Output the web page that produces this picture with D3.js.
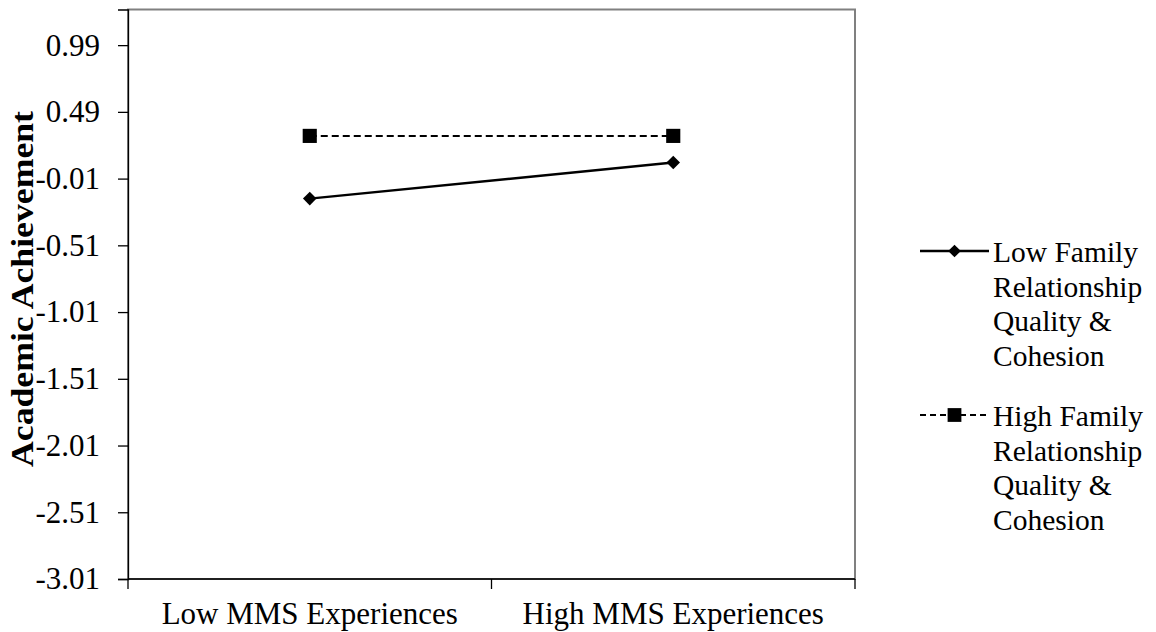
<!DOCTYPE html>
<html><head><meta charset="utf-8">
<script src="https://cdn.jsdelivr.net/npm/d3@7"></script>
<style>body{margin:0;background:#fff}svg{display:block}text{font-family:"Liberation Serif","Times New Roman",serif !important;fill:#000}</style>
</head><body>
<svg id="c" width="1156" height="632"></svg>
<script>
const categories = ["Low MMS Experiences", "High MMS Experiences"];
const lowFamily = [-0.16, 0.11];
const highFamily = [0.31, 0.31];
const yTicks = [0.99, 0.49, -0.01, -0.51, -1.01, -1.51, -2.01, -2.51, -3.01];
const legendLines = [["Low Family","Relationship","Quality &","Cohesion"],["High Family","Relationship","Quality &","Cohesion"]];

const svg = d3.select("#c");
const L = 128, R = 855, T = 9.5, B = 579;
const x = d3.scaleBand().domain(categories).range([L, R]);
const y = d3.scaleLinear().domain([-3.01, 1.257]).range([B, T]);

// plot border (gray)
svg.append("rect").attr("x", L).attr("y", T).attr("width", R - L).attr("height", B - T)
  .attr("fill", "none").attr("stroke", "#808080").attr("stroke-width", 2);

// y axis
const ya = svg.append("g").attr("transform", `translate(${L},0)`)
  .call(d3.axisLeft(y).tickValues(yTicks).tickSize(10).tickPadding(18).tickFormat(d => d.toFixed(2)));
ya.select(".domain").attr("stroke", "#000").attr("stroke-width", 1.3);
ya.selectAll(".tick line").attr("stroke", "#000").attr("stroke-width", 1.3);
ya.selectAll(".tick text").style("font-size", "31px").attr("dy", "0.32em");

// x axis
const xa = svg.append("g").attr("transform", `translate(0,${B})`)
  .call(d3.axisBottom(x).tickSize(0).tickPadding(0));
xa.select(".domain").remove();
xa.selectAll(".tick text").style("font-size", "31px").attr("dy", null).attr("y", 45);
// category boundary ticks
const bounds = [L, L + x.bandwidth(), R];
svg.append("g").selectAll("line").data(bounds).join("line")
  .attr("x1", d => d).attr("x2", d => d).attr("y1", B).attr("y2", B + 10)
  .attr("stroke", "#000").attr("stroke-width", 1.3);
svg.append("line").attr("x1", L).attr("x2", R).attr("y1", B).attr("y2", B).attr("stroke", "#000").attr("stroke-width", 1.3);

// y title
svg.append("text").attr("transform", `translate(33,289) rotate(-90)`)
  .attr("text-anchor", "middle").style("font-size", "32px").style("font-weight", "bold")
  .attr("textLength", 356).attr("lengthAdjust", "spacingAndGlyphs")
  .text("Academic Achievement");

const cx = d => x(d) + x.bandwidth() / 2;
const line = d3.line().x(d => cx(d[0])).y(d => y(d[1]));

const sq = d3.symbol().type(d3.symbolSquare).size(200);
const di = d3.symbol().type(d3.symbolSquare).size(92);

// high family (dashed, squares)
const hData = categories.map((c, i) => [c, highFamily[i]]);
svg.append("path").attr("d", line(hData)).attr("fill", "none").attr("stroke", "#000")
  .attr("stroke-width", 2).attr("stroke-dasharray", "7,4");
svg.append("g").selectAll("path").data(hData).join("path")
  .attr("d", sq).attr("transform", d => `translate(${cx(d[0])},${y(d[1])})`).attr("fill", "#000");

// low family (solid, diamonds)
const lData = categories.map((c, i) => [c, lowFamily[i]]);
svg.append("path").attr("d", line(lData)).attr("fill", "none").attr("stroke", "#000").attr("stroke-width", 2.5);
svg.append("g").selectAll("path").data(lData).join("path")
  .attr("d", di).attr("transform", d => `translate(${cx(d[0])},${y(d[1])}) rotate(45)`).attr("fill", "#000");

// legend
const lg = svg.append("g");
const legY = [251, 415];
const lineH = 34.7;
legendLines.forEach((lines, i) => {
  const yy = legY[i];
  lg.append("line").attr("x1", 920).attr("x2", 989).attr("y1", yy).attr("y2", yy)
    .attr("stroke", "#000").attr("stroke-width", i === 0 ? 2.5 : 2)
    .attr("stroke-dasharray", i === 0 ? null : "6,4");
  lg.append("path").attr("d", i === 0 ? d3.symbol().type(d3.symbolSquare).size(80)() : d3.symbol().type(d3.symbolSquare).size(190)())
    .attr("transform", `translate(954.5,${yy})` + (i === 0 ? " rotate(45)" : "")).attr("fill", "#000");
  const t = lg.append("text").attr("x", 993).attr("y", yy + 11).style("font-size", "29.5px");
  lines.forEach((s, j) => t.append("tspan").attr("x", 993).attr("dy", j === 0 ? 0 : lineH).text(s));
});
</script>
</body></html>
